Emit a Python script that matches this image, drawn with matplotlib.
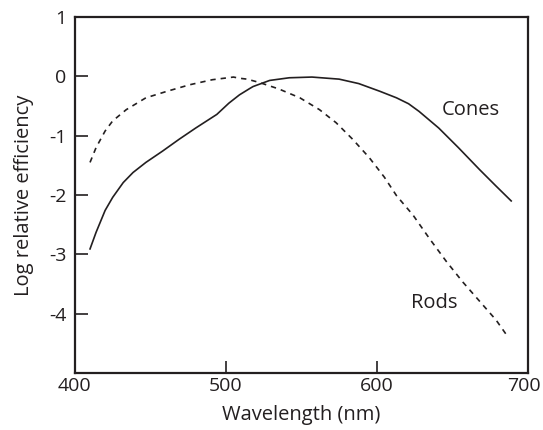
import matplotlib
matplotlib.use("Agg")
import matplotlib.pyplot as plt
import matplotlib.transforms as mtransforms

plt.rcParams["font.family"] = ["Open Sans", "DejaVu Sans"]
plt.rcParams["axes.unicode_minus"] = False

# curve readings (wavelength in nm, log relative efficiency)
cones_wl = [410, 414, 420, 425, 432, 438.5, 447, 458, 469, 480, 494, 502, 509, 516,
            518, 529, 542, 557, 575, 588, 602, 613, 621, 628, 641, 654, 668, 679, 689]
cones_eff = [-2.91, -2.63, -2.26, -2.04, -1.79, -1.62, -1.45, -1.26, -1.06, -0.87, -0.64,
             -0.45, -0.31, -0.20, -0.17, -0.067, -0.022, -0.01, -0.045, -0.12, -0.25, -0.36,
             -0.46, -0.59, -0.87, -1.20, -1.57, -1.85, -2.10]

rods_wl = [410, 414, 420, 425, 434, 447, 461, 476, 491, 505, 509, 514, 522, 535, 549,
           562, 573, 584, 595, 605, 613, 624, 635, 646, 657, 668, 679, 687]
rods_eff = [-1.45, -1.20, -0.92, -0.75, -0.56, -0.36, -0.25, -0.14, -0.055, -0.01, -0.03,
            -0.045, -0.10, -0.21, -0.36, -0.56, -0.78, -1.06, -1.37, -1.70, -2.01, -2.34,
            -2.74, -3.12, -3.47, -3.79, -4.11, -4.40]

x_ticks = [400, 500, 600, 700]
y_ticks = [1, 0, -1, -2, -3, -4]

ink = "#231f20"

fig = plt.figure(figsize=(5.43, 4.30), dpi=100)
ax = fig.add_axes([0.138, 0.133, 0.834, 0.827])

ax.plot(cones_wl, cones_eff, color=ink, lw=1.2)
ax.plot(rods_wl, rods_eff, color=ink, lw=1.2, dashes=(3.2, 3))

ax.text(662, -0.57, "Cones", ha="center", va="center", fontsize=14.5, color=ink)
ax.text(638, -3.83, "Rods", ha="center", va="center", fontsize=14.5, color=ink)

ax.set_xlim(400, 700)
ax.set_ylim(-5, 1)
ax.set_xticks(x_ticks)
ax.set_yticks(y_ticks)
ax.tick_params(direction="in", length=9, width=1.2, colors=ink, labelsize=14, pad=6)
ax.tick_params(axis="x", pad=3)
for s in ax.spines.values():
    s.set_linewidth(1.6)
    s.set_color(ink)

# last x label sits against the figure edge; nudge it in a little
shift = mtransforms.ScaledTranslation(-3 / 72, 0, fig.dpi_scale_trans)
last = ax.get_xticklabels()[-1]
last.set_transform(last.get_transform() + shift)

ax.set_xlabel("Wavelength (nm)", fontsize=14.5, color=ink, labelpad=7)
ax.set_ylabel("Log relative efficiency", fontsize=14.5, color=ink, labelpad=11)

fig.savefig("out.png", dpi=100)
